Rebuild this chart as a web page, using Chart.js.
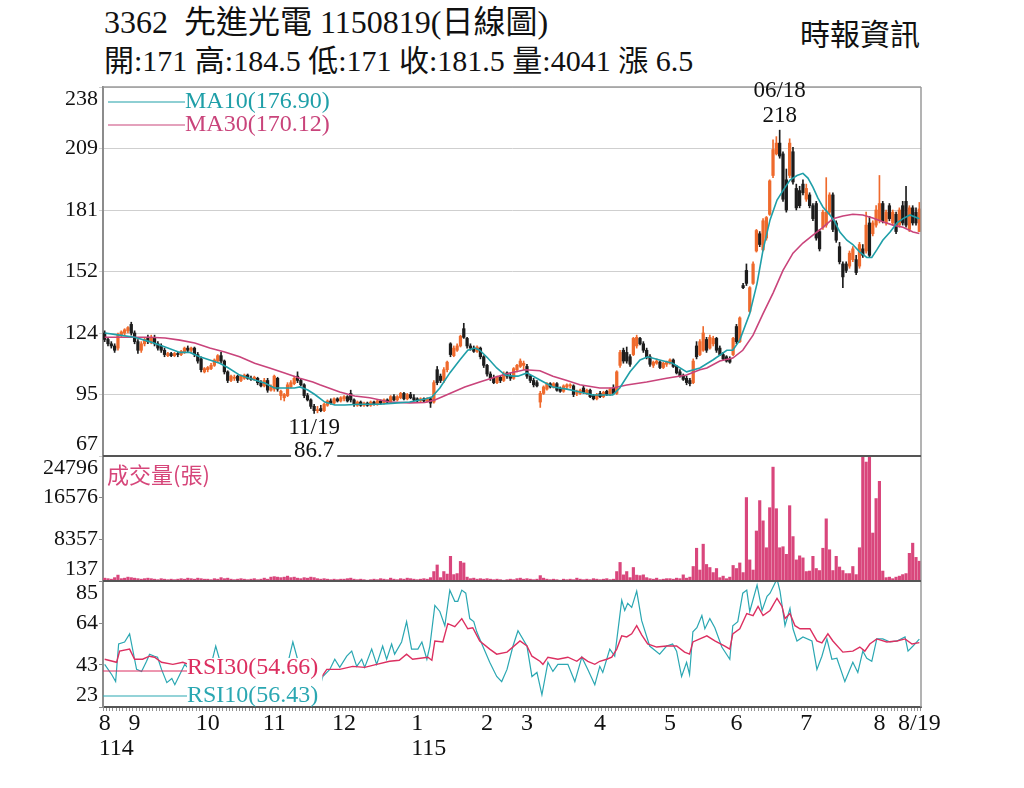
<!DOCTYPE html>
<html>
<head>
<meta charset="utf-8">
<script src="https://cdn.jsdelivr.net/npm/chart.js@4.4.1/dist/chart.umd.min.js"></script>
<style>
html, body { margin: 0; padding: 0; background: #fff; }
#wrap { position: relative; width: 1024px; height: 788px; overflow: hidden; }
#kChart { position: absolute; left: 0; top: 0; }
.t { position: absolute; font-family: "Liberation Serif", "Noto Sans CJK TC", serif; color: #111; white-space: pre; line-height: 1; }
</style>
</head>
<body>
<div id="wrap">
  <div class="t" id="title" style="left:104px;top:6px;font-size:32px"></div>
  <div class="t" id="info" style="left:104px;top:46px;font-size:30px"></div>
  <div class="t" style="left:800px;top:20px;font-size:30px">時報資訊</div>
  <canvas id="kChart" width="1024" height="788"></canvas>
</div>
<script>
// --- data ---
const stockCode = '3362';
const stockName = '先進光電';
const chartDate = '1150819';
const monthNames = ['8', '9', '10', '11', '12', '1', '2', '3', '4', '5', '6', '7', '8'];
const monthDays = [9, 22, 20, 21, 22, 21, 12, 22, 21, 20, 21, 22, 13];
const yearLabels = ['114', '', '', '', '', '115', '', '', '', '', '', '', ''];
const lastDateLabel = '8/19';
const peakDate = '06/18';
const lowDate = '11/19';

const priceTicks = [67, 95.5, 124, 152.5, 181, 209.5, 238];
const volumeTicks = [137, 8357, 16576, 24796];
const rsiTicks = [23, 43.67, 64.33, 85];

// daily candles: [open, high, low, close]
const ohlc = [
  [124,125,120,121],[121,122,118,119],[119,120,117,118],[118,119,115,116],[117,124,116,123],
  [123,125,122,124.5],[124,126,123,125.5],[125,127,124,126.5],[128,129,123,124],[124,125,119,120],
  [120,121,114.5,116],[116,120,115,119],[119,122,118,121],[122,123,119,120],[120,123,119,122],
  [122,123,118,119],[119,120,116,117],[118,119,115,116],[116,117,113,114],[113.5,115,113,114.5],
  [114.5,115,113,113.5],[113.5,115,113,114.5],[114.5,115,113,114],[114,116,113.5,115.5],[115,117.5,114.5,117],
  [117,118,115,116],[116,117.5,115,117],[117,117.5,113,114],[114,115,110,111],[112,113,106,107],
  [106,108,105.5,107.5],[107,108.5,106,108],[107.5,110,107,109],[109,112,108.5,111.5],[111,114,110.5,113.5],
  [113.5,115,110,111],[111,111.5,105,106],[106,106.5,101,102],[102,104.5,101.5,104],[103,104.5,102,103.5],
  [104,104.5,101,102],[102,104.5,101.5,104],[103,105,102.5,104.5],[104.5,105,102.5,103],[103,104,102,102.5],
  [102.5,104,102,103.5],[103,103.5,100,101],[101,102,99,99.5],[99.5,103,99,102],[102,103,96.5,97.5],
  [97.5,100,97,99],[98,104.5,97,104],[103,103.5,97,98],[95,97.5,93,97],[94,96,92.5,95.5],
  [95,101,94.5,100],[99,102,98.5,101],[100.5,104,100,103],[104,106,101,102],[102,103,99.5,100],
  [100,100.5,94,95],[95,96,92.5,93],[93,93.5,89,90],[90,91,86.7,88],[88,90,87,88.5],
  [89,90.5,87.5,88],[88,91.5,87.5,91],[90.5,93,90,92.5],[92.5,93.5,91,91.5],[91.5,94,91,93.5],
  [93.5,94,92,92.5],[92.5,94.5,92,94],[93.5,95,92.5,94.5],[94.5,95,92,92.5],[96,97.5,92,93],
  [93,93.5,90,91],[90.5,92.5,90,92],[92,92.5,90,90.5],[90.5,92,90,91.5],[91.5,92,90,90.5],
  [90.5,92.5,90,92],[92,92.5,90.5,91],[91,93,90.5,92.5],[92.5,93,91,91.5],[91.5,93.5,91,93],
  [93,93.5,91.5,92],[92,95,91.5,94.5],[94.5,95.5,92.5,93],[93,95,92.5,94.5],[94,96.5,93.5,96],
  [96,96.5,93,93.5],[93.5,96,93,95.5],[95.5,96.5,93.5,94],[94,95.5,92.5,93],[93.5,94,92,92.5],
  [92.5,94,92,93.5],[93.5,94,92,92.5],[92.5,94,92,93.5],[93.5,94,89.5,91.5],[92,102,91.5,101],
  [107,108.5,100,101],[104,105,101,102],[102,108,101,107],[107,111,106,110.5],[119,119.5,113,114],
  [113.5,118,113,117],[116,119,115.5,118],[118,123,117.5,122.5],[126,128.5,121.5,122],[121.5,122,117,118],
  [118,119,116,117],[117,118,115,115.5],[115.5,118,115,117.5],[117,117.5,112,113],[113,113.5,108,109],
  [109,109.5,104,105],[105,106,102,103],[103,104.5,100.5,101],[101,104,100.5,103.5],[103.5,104,101,102],
  [102,106,101.5,105],[105.5,106,103,104],[104,105.5,102,103],[103,108,102.5,107.5],[107,109.5,106,109],
  [108.5,112,108,111],[109,111,107,110],[108.5,109.5,103,104],[104,104.5,101,102],[102,103,99,100],
  [101,102,99,99.5],[92,97,89.5,96],[96,99.5,95.5,99],[98,101,97.5,100.5],[100.5,101,98.5,99],
  [99,101,98.5,100.5],[100.5,101,97,97.5],[98,99,96.5,97],[97,100,96.5,99.5],[99,100.5,98,100],
  [99.5,100.5,98.5,100],[99.5,100,94.5,95.5],[96,97.5,95,96],[96,98,95.5,97.5],[98.5,99.5,96,96.5],
  [96,98,95.5,97.5],[97.5,98,94,94.5],[95,95.5,93,93.5],[93.5,96,93,95.5],[96,97,94,94.5],
  [94.5,97,94,96.5],[97,97.5,95,95.5],[95.5,98.5,95,98],[98.5,100,95.5,96],[96,106.5,95.5,106],
  [109,116,108,115],[116,117,110,111],[115,117.5,110,111],[113,114,108.5,109.5],[114,122,113.5,121.5],
  [118,123,117,122],[121.5,122,118.5,119],[119,120,115,116],[116,117,112,113],[113,114,108.5,109.5],
  [109,111,108,110.5],[110,112,109.5,111],[110.5,111,107.5,108],[108,110.5,107.5,110],[109.5,111,108.5,110.5],
  [110,112,109.5,111.5],[111.5,112,108,108.5],[108.5,109,105,105.5],[106,107,103.5,104],[104,105,102,102.5],
  [103,104,100,101],[102,103,99.5,100.5],[101,112,100.5,111],[118,120,112,113],[114,121,113.5,120],
  [116,127,115.5,124],[121,122,115,116],[117,123,116.5,122],[119,122.5,118,121.5],[121.5,122,115,116],
  [117,118,113.5,114],[114,115,111.5,112],[113,113.5,110.5,111],[112,113,110,110.5],[114,122,113.5,121.5],
  [127,128,119,120],[120,131.5,119.5,131],[146,147,144.5,145],[153,156,146,147],[134,145.5,133.5,145],
  [147,157,146.5,156],[162,172,161.5,171.5],[170,171,164,165],[162.5,177,162,176],[168,178,167,177.5],
  [179,195,178.5,194.5],[197,213.5,196,209],[207,215,206.5,212],[212,218,205,206],[207,208,185,186],
  [195,200,180,181],[197,214,196,212],[208,210,193,194],[191,193,181,182],[190,192,182,183],
  [193,195,188,189],[186,193,185,191],[188,189,182,183],[183,184,176,177],[184,185,167,168],
  [171,172,162,163],[173,181,172,180],[174,196,173,180],[180,189,179,188],[188,189,171,172],
  [175,176,166,167],[164,166,156,157],[156,157,145,150],[156,157,152,153],[155,162,154,161],
  [158,164,157,163],[158,160,151,152],[155,166,154,165],[163,165,159,160],[162,180,161,174],
  [175,178,159,160],[170,176,169,175],[174,183,173,181],[176,197,175,184],[184,185,175,176],
  [175,181,174,180],[183,184,176,177],[175,181,174,180],[179,180,170,171],[174,182,173,181],
  [183,185,174,175],[185,192,173,174],[172,183,171,182],[182,183,174,175],[180,182,174,175],
  [171,184.5,171,181.5]
];

// daily volume (張)
const volume = [
  700,600,500,800,1300,600,700,900,800,
  700,600,500,600,700,600,500,400,600,500,400,500,400,500,600,500,700,600,500,700,600,500,
  500,400,600,500,800,600,700,500,400,500,600,500,400,500,600,400,500,700,500,900,
  1000,900,800,900,1100,800,900,700,600,800,700,900,800,600,500,600,500,400,500,400,500,
  500,600,700,500,400,500,400,300,400,500,400,600,500,400,700,500,400,600,500,700,600,500,
  400,500,600,500,800,2000,3300,800,2000,1500,5000,1400,1600,4000,3700,900,600,700,500,600,500,
  600,500,400,500,400,300,400,500,400,600,700,500,
  600,500,400,500,1200,700,500,400,500,400,300,500,400,500,400,700,500,400,500,400,600,500,
  400,500,600,400,500,2000,3800,1350,2000,800,2800,1300,1200,1350,800,600,500,700,400,500,600,
  600,500,700,600,1350,700,900,3000,6600,2300,7400,3400,2800,1800,2600,800,1100,600,900,3200,
  2600,3700,1800,16600,4300,2300,10000,16000,12000,6700,14600,22600,14400,6700,6900,5400,15000,8900,4300,5100,4700,
  2000,2100,5000,2600,2200,6600,12400,6300,2200,5000,2900,2200,1600,1600,3000,1400,6700,28000,23600,28000,9600,16400,
  19800,2100,800,900,600,900,1100,1400,1600,5600,7600,4800,4041
];

// moving averages and RSI read as [day index, value]
const ma10Pts = [
  [0,124],[4.5,123],[9,122],[13.5,120],[18.2,117.5],[22.6,115],[25.6,115],[28.6,113],[31.6,111.5],[34.6,110],
  [37,108],[40.6,104.5],[45.1,102.2],[48.1,100.8],[51.1,98.5],[54.1,98.5],[57.1,98.5],[58.7,99],[61.1,97.6],[63.2,95.5],
  [66.2,92],[69.2,90.6],[72.2,90.6],[76.7,91],[82.7,91],[87.2,91.5],[91.7,92],[96.3,93.4],[98.4,94.3],[100.8,98.5],
  [103.8,105.5],[106.8,111.5],[109.2,116],[111.3,117],[112.8,116],[115.2,112.4],[117.9,107.8],[120.4,104.5],[122.8,104],[124.3,104],
  [127,105.5],[130.9,102.2],[134.8,99],[139,98],[142.9,96.7],[146.8,95.3],[152.8,95.3],[154.9,98.5],[158,106],[161,111.5],
  [163.3,113],[166.9,111.5],[170.8,110],[175,106],[179,107.8],[182.9,111.5],[187.1,116],[188.9,116],[191,120.7],[194,133],
  [196.2,147],[198,162.5],[200.1,176.4],[202.2,185.6],[204,190],[206.1,194.9],[208.2,197],[210,198],[211.5,195.8],[213,191.6],
  [214.5,186.5],[216,182.4],[218.1,178.7],[219.6,175.5],[221.1,170.8],[223.2,167],[225,165],[227.1,161.5],[229.2,159],[230.7,159],
  [232.2,162.5],[234,167],[236.2,170.8],[238.3,175],[240.1,177],[242.2,178.7],[245,176.90]
];
const ma30Pts = [
  [0,122],[7.5,122],[13.5,122],[18.2,121.7],[22.6,120.7],[27.1,119.4],[31.6,117],[36.1,115.2],[40.6,113],[45.1,110],
  [49.6,107.8],[54.1,105.5],[58.7,103],[62.6,101.3],[64.7,100],[70.7,96.7],[75.2,94.8],[79.7,94],[85.7,92],[91.7,91.6],
  [96.3,91.8],[99.3,93],[103.8,96],[108.3,99],[112.8,101.3],[117.3,103.5],[121.9,105.5],[126.4,107],[130.9,106.5],[134.8,104],
  [139,102],[142.9,100],[148.9,98.5],[152.8,98.5],[157,99.9],[163,101.3],[169,103],[175,104.5],[179,107],[181.1,107.8],
  [185,111],[188.9,112.4],[191.9,116],[195,123],[198,133],[201,142.5],[204,153],[207,161],[210,165.7],[213,169.4],
  [216,173],[219,177],[222,178.2],[225,179],[228,178.7],[231,177.3],[234,175.5],[237.1,174],[240.1,173],[243.1,170.8],
  [245,170.12]
];
const rsi10Pts = [
  [0,44],[2.1,39],[3.3,35.5],[4.2,54],[6,55],[7.5,59],[9,46.5],[9.6,41.5],[11.1,40.5],[12.6,45.5],
  [13.5,49],[15,48],[15.9,47.5],[17.1,41.5],[18.7,35],[20.2,37],[21.1,34],[22.6,39],[24.1,44],[26.2,40],
  [28,33],[30.1,30],[32.2,45],[33.4,53],[34.6,46],[37,32],[39.4,40],[41.8,38],[44.2,42],[46.6,36],
  [49,30],[51.5,42],[53.2,33],[55,44],[56.6,55],[58.1,46],[59.9,36],[61.7,30],[63.5,27],[64.7,32.5],
  [65.6,38],[67.7,41.5],[69.2,46.5],[70.7,42.5],[72.8,48],[74.3,50.5],[75.8,43],[77.3,46.5],[78.2,42.5],[80.3,51.5],
  [81.8,44],[83.6,53],[84.8,46.5],[86.3,54],[87.2,49],[89.3,55],[90.8,65],[92.3,51.5],[94.2,51.5],[95.4,55],
  [96.9,46.5],[97.8,53],[99.3,73],[100.8,70],[102.3,63],[103.8,80.5],[105.3,75],[106.2,75],[107.4,80.5],[108.6,79],
  [109.8,66.5],[111,65],[111.9,60],[113.7,53],[115.8,45],[117.9,38],[119.4,35.5],[121,41.5],[122.8,53],[124.3,60.5],
  [127,53],[128.5,38],[130,40],[131.5,29],[133.3,45],[134.8,40.5],[136.3,44],[139.3,44],[141.4,35.5],[143.5,47.5],
  [145.3,41.5],[147.4,34],[148.9,43],[149.8,40],[151.9,51.5],[153.4,48],[155.5,75.5],[156.4,70.5],[157.3,74],[158.5,72],
  [160,80],[161.5,65.5],[163.9,53],[166.9,49],[169,53],[170.8,54],[172,50.5],[173.5,38],[175,45],[175.9,39],
  [176.9,60],[178.1,62],[179.6,68],[180.5,61.5],[182,66.5],[183.5,62],[185.6,52.5],[188,46.5],[188.9,63],[190.4,65],
  [191.9,79],[193.1,80.5],[194,70],[196.2,83],[197.7,70.5],[199.2,77.5],[200.1,79],[202.2,86],[203.1,80],[204.6,63],
  [206.1,71.5],[207,61.5],[208.2,55.5],[210,57.5],[212.7,55.5],[214.2,41.5],[215.7,48],[217.2,56.5],[218.7,46.5],[220.2,47],
  [222.6,35.5],[225,45],[226.5,40],[228,50.5],[229.2,47],[230.7,45.5],[232.2,56.5],[234,56.5],[236.2,55],[238.3,55.5],
  [240.7,57.5],[241.6,50.5],[243.1,53],[245,56.43]
];
const rsi30Pts = [
  [0,46.5],[3.6,45],[4.5,50.5],[7.5,51.5],[9,46.5],[11.4,46.5],[13.5,48],[15,47.5],[17.1,45],[20.5,44],
  [23.5,45],[28.6,42],[34.6,44],[40.6,42],[46.6,41],[53.2,42],[58.7,41],[63.2,37],[64.7,36.5],[66.8,41.5],
  [70.7,41.5],[74.6,43],[78.2,42.5],[81.8,44],[85.7,45.5],[88.6,46],[90.8,49],[92.6,46.5],[97.2,47.5],[98.4,46],
  [99.3,55.5],[101.7,55],[103.2,64],[105.3,62.5],[107.4,66.5],[109.2,61.5],[110.7,62],[112.8,55.5],[115.8,51.5],[117.9,49],
  [121,50],[124.9,55.5],[127,53],[128.5,48],[130.9,45.5],[131.8,44],[133.3,47.5],[136.3,46.5],[139.3,47.5],[142,45.5],
  [143.5,47.5],[145.3,45.5],[147.4,44],[148.9,45.5],[151,46.5],[152.5,47.5],[154,51.5],[155.5,58],[157,57.5],[158.5,59],
  [160,63],[161.5,58.5],[163.3,54],[166,52.5],[169,53],[172,53],[174.4,50],[175.9,49],[176.9,55],[179,56.5],
  [181.1,58],[183.5,55.5],[186.5,53],[188,51.5],[188.9,59],[191,61.5],[193.1,69],[195,68],[196.5,72.5],[198,68],
  [200.1,70.5],[202.2,76.5],[203.7,72.5],[204.6,66.5],[206.1,69],[207.6,63],[209.1,61.5],[212.1,61.5],[214.2,55.5],[215.7,54.5],
  [217.5,59],[219,55.5],[222,50],[225,50.5],[227.1,52.5],[228.6,50.5],[230.1,54],[232.2,56.5],[235.2,55],[238.3,55.5],
  [240.7,56.5],[242.8,54],[245,54.66]
];

// --- derived labels ---
const labels = [];
monthNames.forEach((m, k) => {
  for (let d = 0; d < monthDays[k]; d++) labels.push(k + '-' + d);
});
const N = labels.length;
const last = ohlc[N - 1];
const change = last[3] - ohlc[N - 2][3];
document.getElementById('title').textContent = stockCode + '  ' + stockName + ' ' + chartDate + '(日線圖)';
document.getElementById('info').textContent =
  '開:' + last[0] + ' 高:' + last[1] + ' 低:' + last[2] + ' 收:' + last[3] + ' 量:' + volume[N - 1] + ' 漲 ' + change;

const SERIF = '"Liberation Serif", "DejaVu Serif", serif';
const CJK = '"Noto Sans CJK TC", sans-serif';
const upColor = '#ef6a2d';
const downColor = '#1d1d1d';
const ma10Color = '#1f9fa8';
const ma30Color = '#c9447b';
const rsi10Color = '#2aa7b2';
const rsi30Color = '#dc2f60';
const candleColors = ohlc.map(r => (r[3] >= r[0] ? upColor : downColor));
const toXY = pts => pts.map(p => ({ x: p[0], y: p[1] }));

function text(ctx, s, x, y, font, color, align) {
  ctx.font = font;
  ctx.fillStyle = color;
  ctx.textAlign = align || 'left';
  ctx.textBaseline = 'middle';
  ctx.fillText(s, x, y);
}
function hline(ctx, x1, x2, y, color, w) {
  ctx.beginPath();
  ctx.strokeStyle = color;
  ctx.lineWidth = w;
  ctx.moveTo(x1, y);
  ctx.lineTo(x2, y);
  ctx.stroke();
}

// panes, legends, labels and notes
const panePlugin = {
  id: 'panePlugin',
  beforeDatasetDraw(chart, args) {
    const ds = chart.data.datasets[args.index];
    const s = chart.scales[ds.yAxisID];
    const a = chart.chartArea;
    chart.ctx.save();
    chart.ctx.beginPath();
    chart.ctx.rect(a.left, s.top, a.right - a.left, s.bottom - s.top);
    chart.ctx.clip();
  },
  afterDatasetDraw(chart) {
    chart.ctx.restore();
  },
  afterDatasetsDraw(chart) {
    const ctx = chart.ctx;
    const a = chart.chartArea;
    const { yp, yv, yr, x: xs } = chart.scales;
    ctx.save();
    // frame
    hline(ctx, a.left, a.right, a.top, '#9a9a9a', 1.5);
    ctx.beginPath();
    ctx.strokeStyle = '#9a9a9a';
    ctx.lineWidth = 1.5;
    ctx.moveTo(a.right, a.top);
    ctx.lineTo(a.right, a.bottom);
    ctx.stroke();
    hline(ctx, a.left, a.right, yv.top, '#555', 2);
    hline(ctx, a.left, a.right, yr.top, '#555', 2);

    // MA legend
    const f24 = '24px ' + SERIF;
    hline(ctx, a.left + 5, a.left + 82, a.top + 15, ma10Color, 1.2);
    text(ctx, 'MA10(' + ma10Pts[ma10Pts.length - 1][1].toFixed(2) + ')', a.left + 82, a.top + 15, f24, ma10Color);
    hline(ctx, a.left + 5, a.left + 82, a.top + 38, ma30Color, 1.2);
    text(ctx, 'MA30(' + ma30Pts[ma30Pts.length - 1][1].toFixed(2) + ')', a.left + 82, a.top + 38, f24, ma30Color);

    // volume title
    text(ctx, '成交量(張)', a.left + 4, yv.top + 19, '22px ' + CJK, '#d6467a');

    // RSI legend (text sits on a white box over the lines)
    const r30 = 'RSI30(' + rsi30Pts[rsi30Pts.length - 1][1].toFixed(2) + ')';
    const r10 = 'RSI10(' + rsi10Pts[rsi10Pts.length - 1][1].toFixed(2) + ')';
    ctx.font = f24;
    const lw = Math.max(ctx.measureText(r30).width, ctx.measureText(r10).width);
    ctx.fillStyle = '#fff';
    ctx.fillRect(a.left + 84, yr.top + 77, lw + 4, yr.bottom - yr.top - 78);
    hline(ctx, a.left, a.left + 84, yr.top + 90, rsi30Color, 1);
    text(ctx, r30, a.left + 84, yr.top + 87, f24, rsi30Color);
    hline(ctx, a.left, a.left + 84, yr.top + 115, rsi10Color, 1.2);
    text(ctx, r10, a.left + 84, yr.top + 115, f24, rsi10Color);

    // high / low notes
    const highs = ohlc.map(r => r[1]);
    const lows = ohlc.map(r => r[2]);
    const hi = Math.max(...highs), lo = Math.min(...lows);
    const hx = xs.getPixelForValue(highs.indexOf(hi)), hy = yp.getPixelForValue(hi);
    const lx = xs.getPixelForValue(lows.indexOf(lo)), ly = yp.getPixelForValue(lo);
    const f23 = '23px ' + SERIF;
    text(ctx, String(hi), hx, hy - 14, f23, '#111', 'center');
    text(ctx, peakDate, hx, hy - 39, f23, '#111', 'center');
    text(ctx, lowDate, lx, ly + 14, f23, '#111', 'center');
    ctx.font = f23;
    const w = ctx.measureText(String(lo)).width;
    ctx.fillStyle = '#fff';
    ctx.fillRect(lx - w / 2 - 3, ly + 27, w + 6, 20);
    text(ctx, String(lo), lx, ly + 37, f23, '#111', 'center');
    ctx.restore();
  },
  afterDraw(chart) {
    const ctx = chart.ctx;
    const a = chart.chartArea;
    const { yp, yv, yr, x: xs } = chart.scales;
    const f22 = '22px ' + SERIF;
    ctx.save();
    [[yp, priceTicks], [yv, volumeTicks], [yr, rsiTicks]].forEach(([s, ticks]) => {
      ticks.forEach(v => {
        let y = s.getPixelForValue(v);
        y = Math.min(Math.max(y, s.top + 12), s.bottom - 12);
        text(ctx, String(Math.floor(v)), s.right - 5, y, f22, '#111', 'right');
      });
    });
    const f24 = '24px ' + SERIF;
    let start = 0;
    monthNames.forEach((m, k) => {
      const x = xs.getPixelForValue(start);
      text(ctx, m, x, a.bottom + 17, f24, '#111', 'center');
      if (yearLabels[k]) {
        ctx.font = f24;
        const mw = ctx.measureText(m).width;
        text(ctx, yearLabels[k], x - mw / 2, a.bottom + 42, f24, '#111', 'left');
      }
      start += monthDays[k];
    });
    text(ctx, lastDateLabel, xs.getPixelForValue(N - 1), a.bottom + 17, f24, '#111', 'center');
    ctx.restore();
  }
};

new Chart(document.getElementById('kChart'), {
  type: 'bar',
  data: {
    labels: labels,
    datasets: [
      { type: 'line', data: toXY(ma10Pts), xAxisID: 'xl', yAxisID: 'yp', borderColor: ma10Color, borderWidth: 1.6, pointRadius: 0 },
      { type: 'line', data: toXY(ma30Pts), xAxisID: 'xl', yAxisID: 'yp', borderColor: ma30Color, borderWidth: 1.6, pointRadius: 0 },
      { type: 'line', data: toXY(rsi30Pts), xAxisID: 'xl', yAxisID: 'yr', borderColor: rsi30Color, borderWidth: 1.4, pointRadius: 0 },
      { type: 'line', data: toXY(rsi10Pts), xAxisID: 'xl', yAxisID: 'yr', borderColor: rsi10Color, borderWidth: 1.2, pointRadius: 0 },
      { data: ohlc.map(r => [r[2], r[1]]), xAxisID: 'x', yAxisID: 'yp', backgroundColor: candleColors, barThickness: 1, grouped: false },
      { data: ohlc.map(r => [r[0], r[3]]), xAxisID: 'x', yAxisID: 'yp', backgroundColor: candleColors, barThickness: 2.6, minBarLength: 1, grouped: false },
      { data: volume, xAxisID: 'x', yAxisID: 'yv', backgroundColor: '#d9467c', barThickness: 2.5, grouped: false }
    ]
  },
  options: {
    responsive: false,
    animation: false,
    events: [],
    layout: { padding: { top: 87, right: 103, left: 0, bottom: 0 } },
    plugins: { legend: { display: false }, tooltip: { enabled: false } },
    scales: {
      x: {
        type: 'category',
        offset: true,
        grid: { offset: true, drawOnChartArea: false, tickLength: 4, color: '#777', lineWidth: 0.8 },
        border: { color: '#555', width: 2 },
        ticks: { display: false, autoSkip: false },
        afterFit: s => { s.height = 81; }
      },
      xl: { type: 'linear', display: false, offset: false, min: -0.5, max: N - 0.5 },
      yr: {
        stack: 'panes', stackWeight: 126, min: 23, max: 85,
        grid: { drawOnChartArea: false, tickLength: 4, color: '#888' },
        border: { color: '#8c8c8c', width: 2 },
        ticks: { display: false },
        afterBuildTicks: s => { s.ticks = rsiTicks.map(v => ({ value: v })); },
        afterFit: s => { s.width = 103; }
      },
      yv: {
        stack: 'panes', stackWeight: 125, min: 137, max: 24796,
        grid: { drawOnChartArea: false, tickLength: 4, color: '#888' },
        border: { color: '#8c8c8c', width: 2 },
        ticks: { display: false },
        afterBuildTicks: s => { s.ticks = volumeTicks.map(v => ({ value: v })); },
        afterFit: s => { s.width = 103; }
      },
      yp: {
        stack: 'panes', stackWeight: 369, min: 67, max: 238,
        grid: { color: '#cfcfcf', lineWidth: 1, tickLength: 4 },
        border: { color: '#8c8c8c', width: 2 },
        ticks: { display: false },
        afterBuildTicks: s => { s.ticks = priceTicks.map(v => ({ value: v })); },
        afterFit: s => { s.width = 103; }
      }
    }
  },
  plugins: [panePlugin]
});
</script>
</body>
</html>
